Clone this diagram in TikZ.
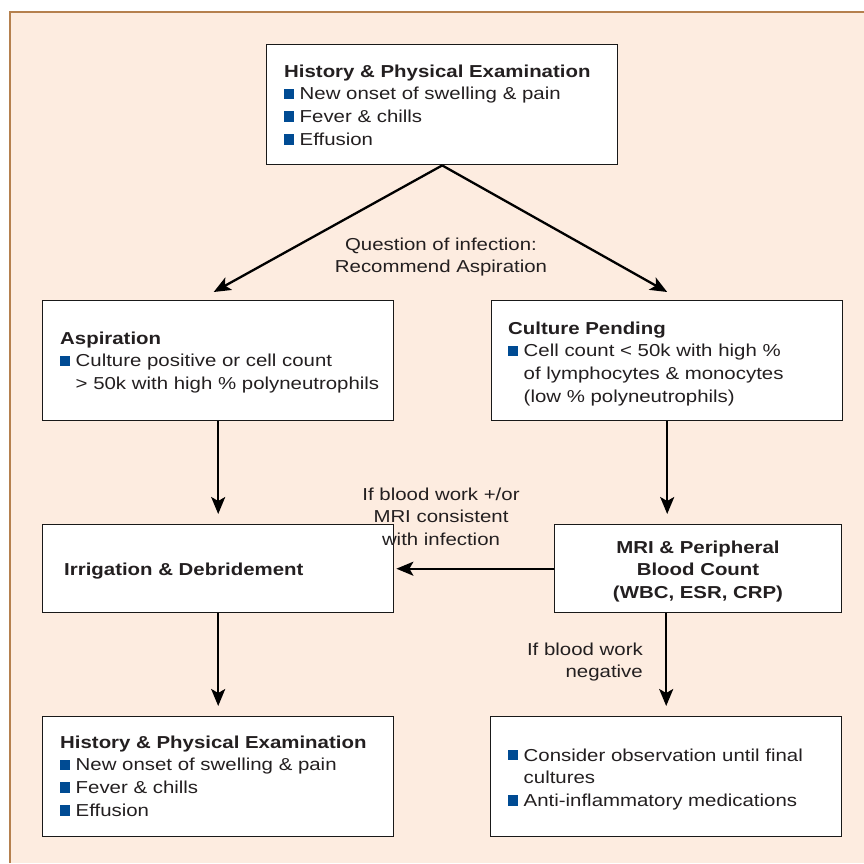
\documentclass[tikz,border=0pt]{standalone}
\usepackage{fontspec}
\setmainfont{Liberation Sans}[FakeStretch=1.18]
\usetikzlibrary{arrows.meta,calc}
\definecolor{bgfill}{HTML}{FDECE0}
\definecolor{framecol}{HTML}{B5804E}
\definecolor{bulblue}{HTML}{004B93}
\definecolor{txt}{HTML}{231F20}
\newcommand\fs{\fontsize{17.3pt}{22.8pt}\selectfont}
\newcommand\bu{\textcolor{bulblue}{\rule[0.8pt]{10pt}{10.5pt}}\hspace{5.5pt}}
\newcommand\ind{\hspace{15.5pt}}
\newcommand\tb[2]{\begin{tabular}[t]{@{}#1@{}}#2\end{tabular}}
\begin{document}
\begin{tikzpicture}[x=1pt,y=-1pt,
  box/.style={draw=black!90, line width=1.4pt, fill=white, inner sep=0pt, anchor=north west},
  lbl/.style={font=\fs, text=txt, inner sep=0pt},
  arr/.style={line width=2.3pt, -{Stealth[length=17pt,width=14pt,inset=4pt]}}]
\useasboundingbox (0,0) rectangle (864,863);
% background panel
\fill[bgfill] (10,12) rectangle (864,863);
\draw[framecol, line width=2.5pt] (10,863) -- (10,12) -- (864,12);
% boxes
\node[box, minimum width=351pt, minimum height=120pt] (top) at (266,44) {};
\node[box, minimum width=351pt, minimum height=120pt] (asp) at (42,300) {};
\node[box, minimum width=351pt, minimum height=120pt] (cul) at (491,300) {};
\node[box, minimum width=351pt, minimum height=88pt] (irr) at (42,524) {};
\node[box, minimum width=287pt, minimum height=88pt] (mri) at (554,524) {};
\node[box, minimum width=351pt, minimum height=120pt] (bl) at (42,716) {};
\node[box, minimum width=351pt, minimum height=120pt] (br) at (490,716) {};
% box texts
\node[lbl, anchor=base west] (toptxt) at (284,77) {\tb{l}{\textbf{History \& Physical Examination}\\ \bu New onset of swelling \& pain\\ \bu Fever \& chills\\ \bu Effusion}};
\node[lbl, anchor=base west] (asptxt) at (60,344) {\tb{l}{\textbf{Aspiration}\\ \bu Culture positive or cell count\\ \ind > 50k with high \% polyneutrophils}};
\node[lbl, anchor=base west] (cultxt) at (508,334) {\tb{l}{\textbf{Culture Pending}\\ \bu Cell count < 50k with high \%\\ \ind of lymphocytes \& monocytes\\ \ind (low \% polyneutrophils)}};
\node[lbl, anchor=base west] (irrtxt) at (64,575) {\textbf{Irrigation \& Debridement}};
\node[lbl, anchor=base] (mritxt) at (698,553) {\tb{c}{\textbf{MRI \& Peripheral}\\ \textbf{Blood Count}\\ \textbf{(WBC, ESR, CRP)}}};
\node[lbl, anchor=base west] (bltxt) at (60,748) {\tb{l}{\textbf{History \& Physical Examination}\\ \bu New onset of swelling \& pain\\ \bu Fever \& chills\\ \bu Effusion}};
\node[lbl, anchor=base west] (brtxt) at (508,761) {\tb{l}{\bu Consider observation until final\\ \ind cultures\\ \bu Anti-inflammatory medications}};
% connectors
\draw[arr] (top.south) -- ($(asp.north)+(-4.5,-8)$);
\draw[arr] (top.south) -- ($(cul.north)+(0,-8)$);
\draw[arr] (asp.south) -- ($(irr.north)+(0,-10)$);
\draw[arr] (cul.south) -- ($(cul.south |- mri.north)+(0,-10)$);
\draw[arr] (mri.west) -- ($(irr.east)+(2,0)$);
\draw[arr] (irr.south) -- ($(bl.north)+(0,-10)$);
\draw[arr] (br.north |- mri.south) -- ($(br.north)+(0,-10)$);
% connector labels
\node[lbl, anchor=base] (q) at (441,250) {\tb{c}{Question of infection:\\ Recommend Aspiration}};
\node[lbl, anchor=base] (pos) at (441,500) {\tb{c}{If blood work +/or\\ MRI consistent\\ with infection}};
\node[lbl, anchor=base east] (neg) at (643,655) {\tb{r}{If blood work\\ negative}};
\end{tikzpicture}
\end{document}
